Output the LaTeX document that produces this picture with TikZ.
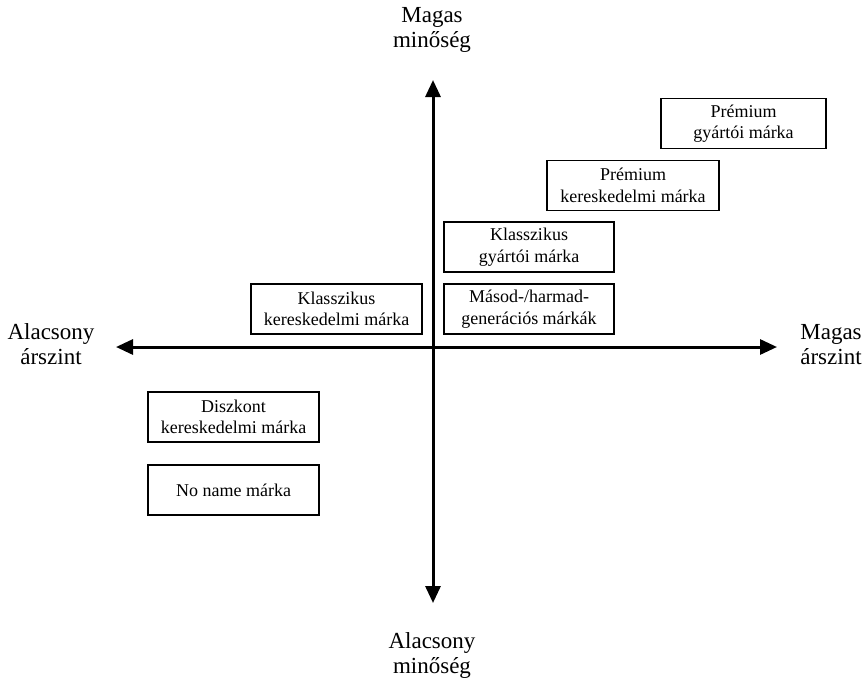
\documentclass[tikz,border=0pt]{standalone}
\usepackage{fontspec}
\setmainfont{Liberation Serif}
\usetikzlibrary{arrows.meta}

\begin{document}
\begin{tikzpicture}[x=1pt,y=-1pt,
  axis/.style={line width=3pt,-{Triangle[length=17pt,width=15pt]}},
  axislabel/.style={align=center,inner sep=0pt,
    font=\fontsize{23}{25}\selectfont},
  brand/.style={draw,line width=1.1pt,inner sep=0pt,align=center,
    minimum height=50pt,minimum width=170pt,
    font=\fontsize{18}{21.5}\selectfont}]
  \useasboundingbox (0,0) rectangle (864,678);

  % axes
  \coordinate (o) at (433,347);
  \coordinate (top) at (433,80);
  \coordinate (bottom) at (433,603);
  \coordinate (left) at (116,347);
  \coordinate (right) at (777,347);
  \draw[axis] (o) -- (top);
  \draw[axis] (o) -- (bottom);
  \draw[axis] (o) -- (left);
  \draw[axis] (o) -- (right);

  % axis labels
  \node[axislabel] (hq) at (432,30) {Magas\\minőség};
  \node[axislabel] (lq) at (432,655) {Alacsony\\minőség};
  \node[axislabel] (lp) at (51,344) {Alacsony\\árszint};
  \node[axislabel] (hp) at (831,345) {Magas\\árszint};

  % brand categories
  \node[brand,minimum width=165pt] (b1) at (743.5,123.5) {Prémium\\gyártói márka};
  \node[brand,minimum width=172pt] (b2) at (633,185.5) {Prémium\\kereskedelmi márka};
  \node[brand] (b3) at (529,247) {Klasszikus\\gyártói márka};
  \node[brand] (b4) at (529,309) {Másod-/harmad-\\generációs márkák};
  \node[brand,minimum width=171pt] (b5) at (336.5,309) {Klasszikus\\kereskedelmi márka};
  \node[brand,minimum width=171pt] (b6) at (233.5,417) {Diszkont\\kereskedelmi márka};
  \node[brand,minimum width=171pt] (b7) at (233.5,490) {No name márka};
\end{tikzpicture}
\end{document}
